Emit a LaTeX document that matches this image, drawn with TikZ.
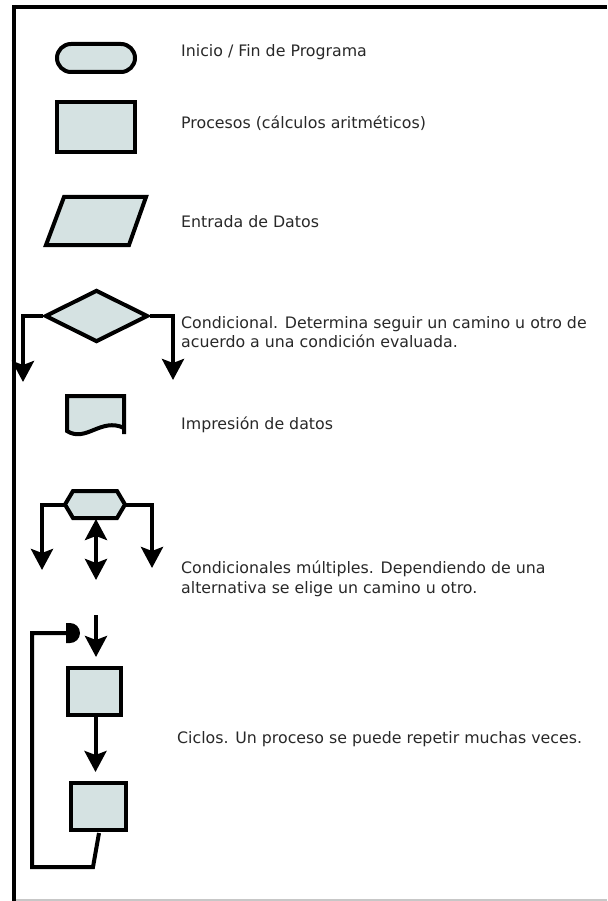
\documentclass[tikz,border=0pt]{standalone}
\usepackage{fontspec}
\setmainfont{DejaVu Sans}
\usetikzlibrary{arrows.meta,shapes.misc,shapes.geometric}
\definecolor{shapefill}{RGB}{213,226,226}
\definecolor{txt}{RGB}{40,40,40}
\tikzset{
  sym/.style={draw=black, fill=shapefill, line width=4pt, line join=miter},
  boxsym/.style={sym, rectangle, inner sep=0pt},
  conn/.style={draw=black, line width=4pt, -{Stealth[length=21pt,width=22pt,inset=4pt]}},
  dconn/.style={draw=black, line width=4pt, {Stealth[length=21pt,width=22pt,inset=4pt]}-{Stealth[length=21pt,width=22pt,inset=4pt]}},
  plain/.style={draw=black, line width=4pt},
  lbl/.style={anchor=base west, inner sep=0pt, text=txt, font=\fontsize{15.8}{19}\selectfont},
}
\begin{document}
\begin{tikzpicture}[x=1pt,y=-1pt]
\useasboundingbox (0,0) rectangle (607,901);
% frame
\draw[line width=4pt] (12,7) -- (607,7);
\draw[line width=4pt] (14,5) -- (14,901);
\draw[black!22, line width=1.5pt] (16,900) -- (607,900);

% terminal
\node[sym, rounded rectangle, minimum width=78pt, minimum height=28pt, inner sep=0pt] (term) at (96,58) {};
\node[lbl] (tterm) at (181,57) {Inicio / Fin de Programa};

% process
\node[boxsym, minimum width=78pt, minimum height=50pt] (proc) at (96,127) {};
\node[lbl] (tproc) at (181,129) {Procesos (cálculos aritméticos)};

% input (parallelogram)
\draw[sym] (64,197) -- (146,197) -- (129,245) -- (46,245) -- cycle;
\node[lbl] (tin) at (181,228) {Entrada de Datos};

% decision
\node[sym, diamond, minimum width=103pt, minimum height=52pt, inner sep=0pt] (dia) at (96.5,316) {};
\coordinate (dl) at (23,382);
\coordinate (dr) at (173,380);
\draw[conn] (dia.west) -| (dl);
\draw[conn] (dia.east) -| (dr);
\node[lbl] (tdia1) at (181,328) {Condicional. Determina seguir un camino u otro de};
\node[lbl] (tdia2) at (181,347) {acuerdo a una condición evaluada.};

% document
\draw[sym] (124,434) -- (124,396) -- (67,396) -- (67,431)
  .. controls (86,443) and (101,417) .. (124,428);
\node[lbl] (tdoc) at (181,429) {Impresión de datos};

% multiple conditional (hexagon)
\draw[sym] (73,491) -- (117,491) -- (125,504.5) -- (117,518) -- (73,518) -- (65,504.5) -- cycle;
\coordinate (hexL) at (65,504.5);
\coordinate (hexR) at (125,504.5);
\coordinate (hexB) at (96,519);
\coordinate (ml) at (42,570);
\coordinate (mr) at (152,568);
\coordinate (mm) at (96,580);
\draw[conn] (hexL) -| (ml);
\draw[conn] (hexR) -| (mr);
\draw[dconn] (hexB) -- (mm);
\node[lbl] (tmul1) at (181,573) {Condicionales múltiples. Dependiendo de una};
\node[lbl] (tmul2) at (181,593) {alternativa se elige un camino u otro.};

% loop
\node[boxsym, minimum width=53pt, minimum height=47pt] (b1) at (94.5,691.5) {};
\node[boxsym, minimum width=55pt, minimum height=47pt] (b2) at (98.5,806.5) {};
\coordinate (lin) at (96,615);
\draw[conn, shorten >=9pt] (lin) -- (lin |- b1.north);
\draw[conn, shorten >=9pt] ([xshift=1pt]b1.south) -- ([xshift=1pt]b1.south |- b2.north);
\coordinate (r1) at (93,867);
\coordinate (r2) at (32,867);
\coordinate (r3) at (32,633);
\coordinate (r4) at (68,633);
\draw[plain] ([xshift=0.5pt,yshift=-1pt]b2.south) -- (r1) -- (r2) -- (r3) -- (r4);
\fill (66,623) -- (70,623) arc[start angle=90,end angle=-90,radius=10pt] -- (66,643) -- cycle;
\node[lbl] (tloop) at (177,743) {Ciclos. Un proceso se puede repetir muchas veces.};
\end{tikzpicture}
\end{document}
